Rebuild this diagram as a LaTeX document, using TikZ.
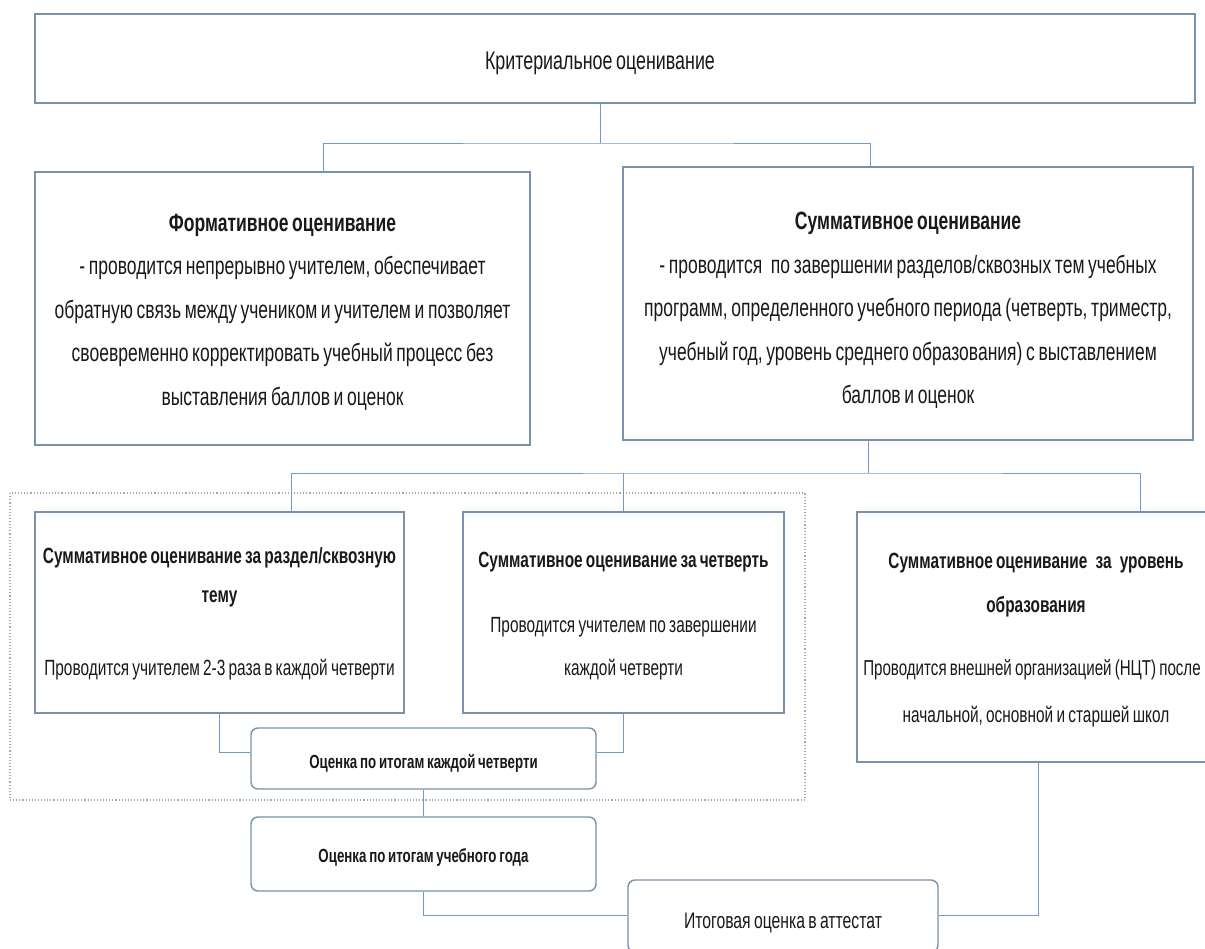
\documentclass[tikz,border=0pt]{standalone}
\usepackage{fontspec}
\setmainfont{Liberation Sans}[FakeStretch=0.7,WordSpace=0.75]
\definecolor{bord}{RGB}{120,145,172}
\definecolor{conn}{RGB}{110,155,200}
\definecolor{grpc}{RGB}{150,170,195}
\definecolor{txt}{RGB}{25,25,25}
\tikzset{
  box/.style={draw=bord, line width=1.4pt, fill=white, inner sep=0pt},
  rbox/.style={box, rounded corners=7pt},
  conn/.style={draw=conn, line width=0.9pt},
  grp/.style={draw=grpc, dotted, line width=1.1pt, inner sep=0pt},
  lbl/.style={inner sep=0pt, text=txt, anchor=base},
  big/.style={lbl, font=\fontsize{25}{30}\selectfont},
  bigb/.style={lbl, font=\fontsize{25}{30}\selectfont\bfseries},
  sml/.style={lbl, font=\fontsize{22}{26}\selectfont},
  smlb/.style={lbl, font=\fontsize{22}{26}\selectfont\bfseries},
}
\begin{document}
\begin{tikzpicture}[x=1pt,y=-1pt]
\useasboundingbox (0,0) rectangle (1205,949);
\fill[white] (0,0) rectangle (1205,949);

% group frame
\node[grp, minimum width=795pt, minimum height=307pt] (grp) at (407.5,646.5) {};

% boxes
\node[box, minimum width=1160pt, minimum height=89pt] (top) at (615,58.5) {};
\node[box, minimum width=495pt, minimum height=273pt] (form) at (282.5,308.5) {};
\node[box, minimum width=570pt, minimum height=273pt] (summ) at (908,303.5) {};
\node[box, minimum width=369pt, minimum height=201pt] (b1) at (219.5,612.5) {};
\node[box, minimum width=321pt, minimum height=201pt] (b2) at (623.5,612.5) {};
\node[box, minimum width=358pt, minimum height=250pt] (b3) at (1036,637) {};
\node[rbox, minimum width=345pt, minimum height=61pt] (qa) at (423.5,758.5) {};
\node[rbox, minimum width=345pt, minimum height=74pt] (ya) at (423.5,854) {};
\node[rbox, minimum width=310pt, minimum height=72pt] (fin) at (783,916) {};

% texts
\node[lbl, font=\fontsize{25.5}{30}\selectfont] (tt) at (600,70) {Критериальное оценивание};

\node[bigb] (f0) at (282.5,231.5) {Формативное оценивание};
\node[big] (f1) at (282.5,275) {- проводится непрерывно учителем, обеспечивает};
\node[big] (f2) at (282.5,318.5) {обратную связь между учеником и учителем и позволяет};
\node[big] (f3) at (282.5,362) {своевременно корректировать учебный процесс без};
\node[big] (f4) at (282.5,405.5) {выставления баллов и оценок};

\node[bigb] (s0) at (908,230) {Суммативное оценивание};
\node[big] (s1) at (908,273.5) {- проводится\hspace{5pt} по завершении разделов/сквозных тем учебных};
\node[big] (s2) at (908,317) {программ, определенного учебного периода (четверть, триместр,};
\node[big] (s3) at (908,360.5) {учебный год, уровень среднего образования) с выставлением};
\node[big] (s4) at (908,404) {баллов и оценок};

\node[smlb] (p0) at (219.5,563.5) {Суммативное оценивание за раздел/сквозную};
\node[smlb] (p1) at (219.5,602.5) {тему};
\node[sml] (p2) at (219.5,675.5) {Проводится учителем 2-3 раза в каждой четверти};

\node[smlb] (c0) at (623.5,567.5) {Суммативное оценивание за четверть};
\node[sml] (c1) at (623.5,632.5) {Проводится учителем по завершении};
\node[sml] (c2) at (623.5,675.5) {каждой четверти};

\node[smlb] (u0) at (1036,568.5) {Суммативное оценивание\hspace{5pt} за\hspace{5pt} уровень};
\node[smlb] (u1) at (1036,612.5) {образования};
\node[lbl, font=\fontsize{21.6}{26}\selectfont] (u2) at (1032,675.5) {Проводится внешней организацией (НЦТ) после};
\node[sml] (u3) at (1036,722.5) {начальной, основной и старшей школ};

\node[lbl, font=\fontsize{19}{22}\bfseries] (qt) at (423.5,768) {Оценка по итогам каждой четверти};
\node[lbl, font=\fontsize{19}{22}\bfseries] (yt) at (423.5,862) {Оценка по итогам учебного года};
\node[lbl, font=\fontsize{22.5}{26}\selectfont] (fint) at (783,928) {Итоговая оценка в аттестат};

% connector helper coordinates
\coordinate (j1) at (600,143);
\coordinate (xf) at (323,0);
\coordinate (xs) at (870,0);
\coordinate (j2) at (868,473);
\coordinate (x1) at (291,0);
\coordinate (x3) at (1140,0);
\coordinate (xq) at (219,0);
\coordinate (yq) at (0,752);
\coordinate (yf) at (0,915);
\coordinate (x3b) at (1038,0);

% connectors
\draw[conn] (top.south -| j1) -- (j1);
\draw[conn] (form.north -| xf) |- (j1) -| (summ.north -| xs);
\draw[conn] (summ.south -| j2) -- (j2);
\draw[conn] (b1.north -| x1) |- (j2) -| (b3.north -| x3);
\draw[conn] (b2.north) -- (b2.north |- j2);
\draw[conn] (b1.south -| xq) |- (qa.west |- yq);
\draw[conn] (b2.south) |- (qa.east |- yq);
\draw[conn] (qa.south) -- (ya.north);
\draw[conn] (ya.south) |- (fin.west |- yf);
\draw[conn] (b3.south -| x3b) |- (fin.east |- yf);
\end{tikzpicture}
\end{document}
